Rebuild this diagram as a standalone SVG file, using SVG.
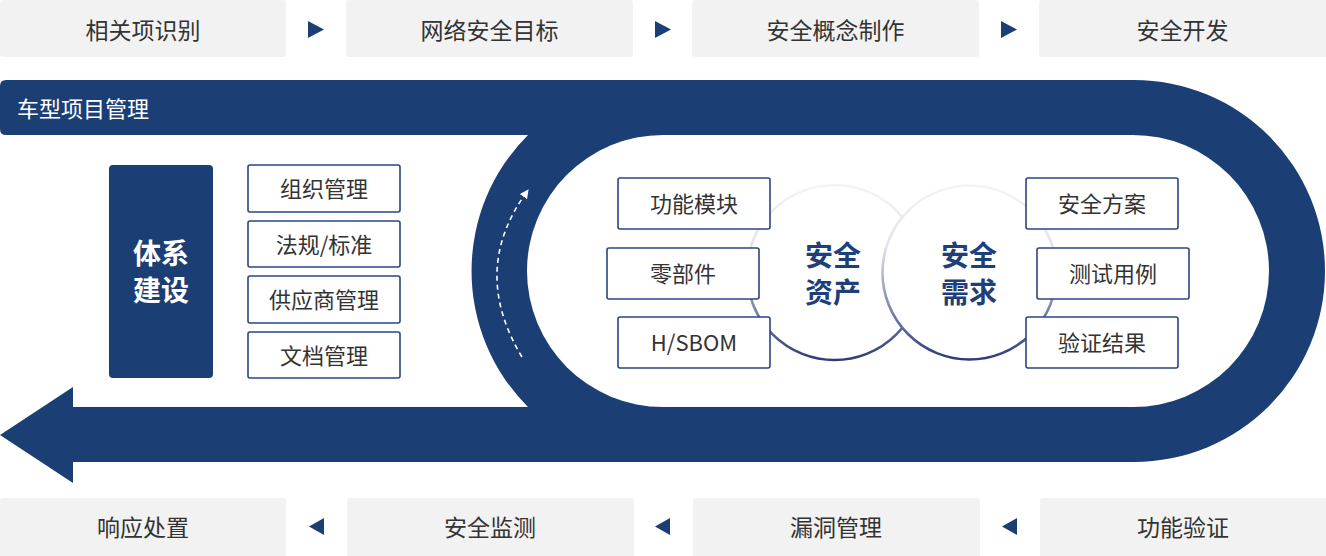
<svg xmlns="http://www.w3.org/2000/svg" width="1326" height="556" viewBox="0 0 1326 556">
<style>
text{font-family:"Noto Sans CJK SC","Noto Sans",sans-serif;text-anchor:middle}
.step rect{fill:#f2f2f2}
.step text{font-size:23px;fill:#333}
.tri{fill:#1b3f75}
.box rect{fill:#fff;stroke:#2a4680;stroke-width:1.6}
.box text{font-size:22px;fill:#333}
.core text{font-size:28px;font-weight:700;fill:#1e3f7a}
</style>
<defs>
<linearGradient id="ring" x1="0" y1="0" x2="0" y2="1">
<stop offset="0" stop-color="#f4f4f8"/>
<stop offset="0.35" stop-color="#e2e3ec"/>
<stop offset="0.65" stop-color="#8e92b6"/>
<stop offset="1" stop-color="#2b3c78"/>
</linearGradient>
<marker id="ah" viewBox="0 0 10 10" refX="5" refY="5" markerWidth="9" markerHeight="9" markerUnits="userSpaceOnUse" orient="auto">
<path d="M0,0 L10,5 L0,10 Z" fill="#fff"/>
</marker>
</defs>

<g id="band">
<path d="M0,86 Q0,80 6,80 H1134 A191,191 0 0 1 1134,462 H73 V483 L0,435 L73,387 V407 H528 A192,192 0 0 1 528,135 H6 Q0,135 0,129 Z" fill="#1b3f75"/>
<rect x="527" y="135" width="742" height="272" rx="136" ry="136" fill="#fff"/>
<text x="17" y="116.5" style="text-anchor:start;font-size:22px;fill:#fff">车型项目管理</text>
</g>

<g id="top-steps">
<g id="s1" class="step"><rect x="0" y="0" width="286" height="57" rx="3"/><text x="143" y="39">相关项识别</text></g>
<g id="s2" class="step"><rect x="346" y="0" width="287" height="57" rx="3"/><text x="489.5" y="39">网络安全目标</text></g>
<g id="s3" class="step"><rect x="692" y="0" width="287" height="57" rx="3"/><text x="835.5" y="39">安全概念制作</text></g>
<g id="s4" class="step"><rect x="1039" y="0" width="290" height="57" rx="3"/><text x="1182.5" y="39">安全开发</text></g>
</g>

<g id="bottom-steps">
<g id="b1" class="step"><rect x="0" y="498" width="286" height="60" rx="3"/><text x="143" y="535.5">响应处置</text></g>
<g id="b2" class="step"><rect x="347" y="498" width="287" height="60" rx="3"/><text x="490" y="535.5">安全监测</text></g>
<g id="b3" class="step"><rect x="693" y="498" width="287" height="60" rx="3"/><text x="836" y="535.5">漏洞管理</text></g>
<g id="b4" class="step"><rect x="1040" y="498" width="290" height="60" rx="3"/><text x="1183" y="535.5">功能验证</text></g>
</g>

<g id="connectors">
<path class="tri" d="M308,21 L324,29.5 L308,38 Z"/>
<path class="tri" d="M655,21 L671,29.5 L655,38 Z"/>
<path class="tri" d="M1001,21 L1017,29.5 L1001,38 Z"/>
<path class="tri" d="M324,518 L309,526.5 L324,535 Z"/>
<path class="tri" d="M670,518 L655,526.5 L670,535 Z"/>
<path class="tri" d="M1017,518 L1002,526.5 L1017,535 Z"/>
<path d="M522,357 Q470,271 526,193" fill="none" stroke="#fff" stroke-width="1.6" stroke-dasharray="5,4" marker-end="url(#ah)"/>
</g>

<g id="system">
<rect x="109" y="165" width="104" height="213" rx="4" fill="#1b3f75"/>
<text x="161" y="263.5" style="font-size:28px;font-weight:700;fill:#fff">体系</text>
<text x="161" y="300.5" style="font-size:28px;font-weight:700;fill:#fff">建设</text>
</g>

<g id="l1" class="box"><rect x="248" y="165" width="152" height="47" rx="2"/><text x="324" y="197">组织管理</text></g>
<g id="l2" class="box"><rect x="248" y="221" width="152" height="46" rx="2"/><text x="324" y="252.5">法规/标准</text></g>
<g id="l3" class="box"><rect x="248" y="276" width="152" height="47" rx="2"/><text x="324" y="308">供应商管理</text></g>
<g id="l4" class="box"><rect x="248" y="332" width="152" height="46" rx="2"/><text x="324" y="363.5">文档管理</text></g>

<g id="assets" class="core">
<circle cx="834.5" cy="272.5" r="87.5" fill="#fff" stroke="url(#ring)" stroke-width="2.6"/>
<text x="833" y="266">安全</text>
<text x="833" y="302.5">资产</text>
</g>
<g id="requirements" class="core">
<circle cx="969.5" cy="272.5" r="87" fill="#fff" stroke="url(#ring)" stroke-width="2.6"/>
<text x="969" y="266">安全</text>
<text x="969" y="302.5">需求</text>
</g>

<g id="c1" class="box"><rect x="618" y="178" width="152" height="51" rx="2"/><text x="694" y="212">功能模块</text></g>
<g id="c2" class="box"><rect x="607" y="248" width="152" height="51" rx="2"/><text x="683" y="282">零部件</text></g>
<g id="c3" class="box"><rect x="618" y="317" width="152" height="51" rx="2"/><text x="694" y="351">H/SBOM</text></g>
<g id="r1" class="box"><rect x="1026" y="178" width="152" height="51" rx="2"/><text x="1102" y="212">安全方案</text></g>
<g id="r2" class="box"><rect x="1037" y="248" width="152" height="51" rx="2"/><text x="1113" y="282">测试用例</text></g>
<g id="r3" class="box"><rect x="1026" y="317" width="152" height="51" rx="2"/><text x="1102" y="351">验证结果</text></g>
</svg>
